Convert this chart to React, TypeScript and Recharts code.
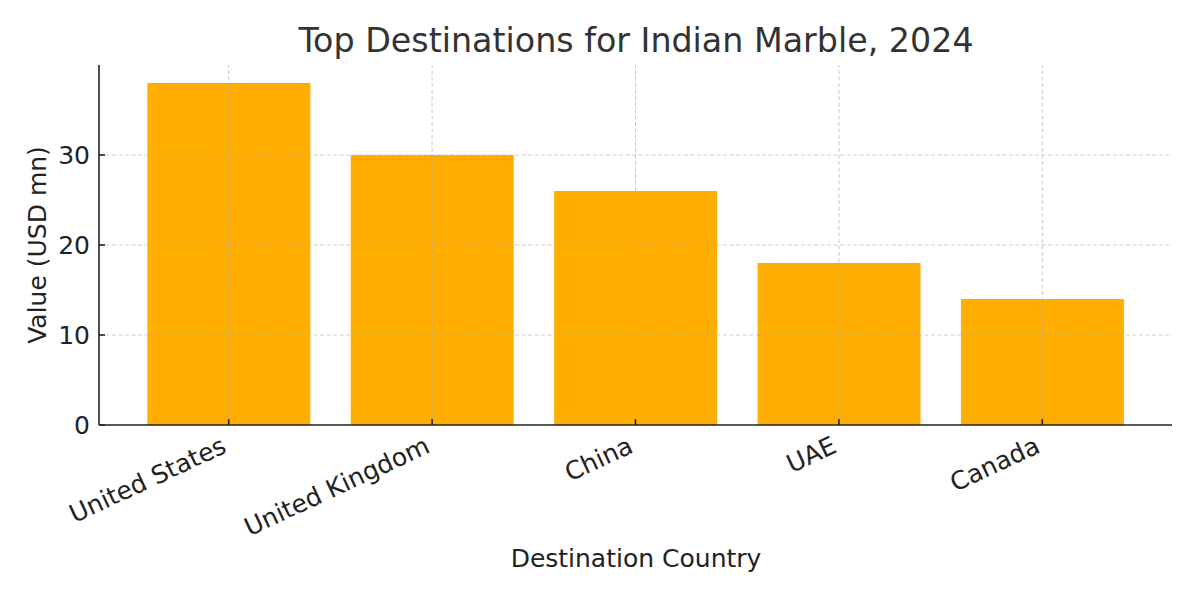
import { BarChart, Bar, XAxis, YAxis, ReferenceLine } from "recharts";

const countries = ["United States", "United Kingdom", "China", "UAE", "Canada"];
const values = [38, 30, 26, 18, 14];
const yTicks = [0, 10, 20, 30];

const rows = countries.map((country, i) => ({ country, value: values[i] }));

const FONT = "'DejaVu Sans', sans-serif";
const INK = "#222222";
const LABEL_SIZE = 25;

function CountryTick({ x, y, payload }: { x?: number; y?: number; payload?: { value: string } }) {
  const tx = Number(x);
  const ty = Number(y);
  const axisY = ty - 9;
  // right edge of the rotated label box sits on the tick
  const ax = tx - 9;
  return (
    <g>
      <line x1={tx} x2={tx} y1={axisY} y2={axisY - 6} stroke={INK} strokeWidth={1.6} />
      <text
        x={ax}
        y={ty}
        dy="0.78em"
        textAnchor="end"
        transform={`rotate(-25, ${ax}, ${ty})`}
        fill={INK}
        fontSize={LABEL_SIZE}
        fontFamily={FONT}
      >
        {payload?.value}
      </text>
    </g>
  );
}

function ValueTick({ x, y, payload }: { x?: number; y?: number; payload?: { value: number } }) {
  const tx = Number(x);
  const ty = Number(y);
  const axisX = tx + 9;
  return (
    <g>
      <line x1={axisX} x2={axisX + 6} y1={ty} y2={ty} stroke={INK} strokeWidth={1.6} />
      <text x={tx} y={ty} dy="0.36em" textAnchor="end" fill={INK} fontSize={LABEL_SIZE} fontFamily={FONT}>
        {payload?.value}
      </text>
    </g>
  );
}

export default function App() {
  return (
    <div style={{ position: "absolute", left: 0, top: 0, width: 1200, height: 600, background: "#fff" }}>
      <BarChart
        width={1200}
        height={600}
        data={rows}
        margin={{ top: 65, right: 28, left: 0, bottom: 0 }}
        barCategoryGap="10%"
      >
        {yTicks.slice(1).map((t) => (
          <ReferenceLine key={t} y={t} stroke="#b0b0b0" strokeOpacity={0.6} strokeDasharray="4 2.5" />
        ))}
        <XAxis
          dataKey="country"
          height={175}
          padding={{ left: 28, right: 28 }}
          tickSize={0}
          tickMargin={9}
          interval={0}
          tick={<CountryTick />}
          axisLine={{ stroke: INK, strokeWidth: 1.6 }}
        />
        <YAxis
          width={99}
          domain={[0, 40]}
          ticks={yTicks}
          tickSize={0}
          tickMargin={9}
          tick={<ValueTick />}
          axisLine={{ stroke: INK, strokeWidth: 1.6 }}
        />
        <Bar dataKey="value" fill="#FFAE00" isAnimationActive={false} />
        {countries.map((c) => (
          <ReferenceLine
            key={c}
            x={c}
            stroke="#b0b0b0"
            strokeOpacity={0.7}
            strokeDasharray="4 2.5"
          />
        ))}
        <text x={636} y={52} textAnchor="middle" fill="#333333" fontSize={33.3} fontFamily={FONT}>
          Top Destinations for Indian Marble, 2024
        </text>
        <text x={636} y={567} textAnchor="middle" fill={INK} fontSize={LABEL_SIZE} fontFamily={FONT}>
          Destination Country
        </text>
        <text
          x={46}
          y={245}
          textAnchor="middle"
          transform="rotate(-90, 46, 245)"
          fill={INK}
          fontSize={LABEL_SIZE}
          fontFamily={FONT}
        >
          Value (USD mn)
        </text>
      </BarChart>
    </div>
  );
}
